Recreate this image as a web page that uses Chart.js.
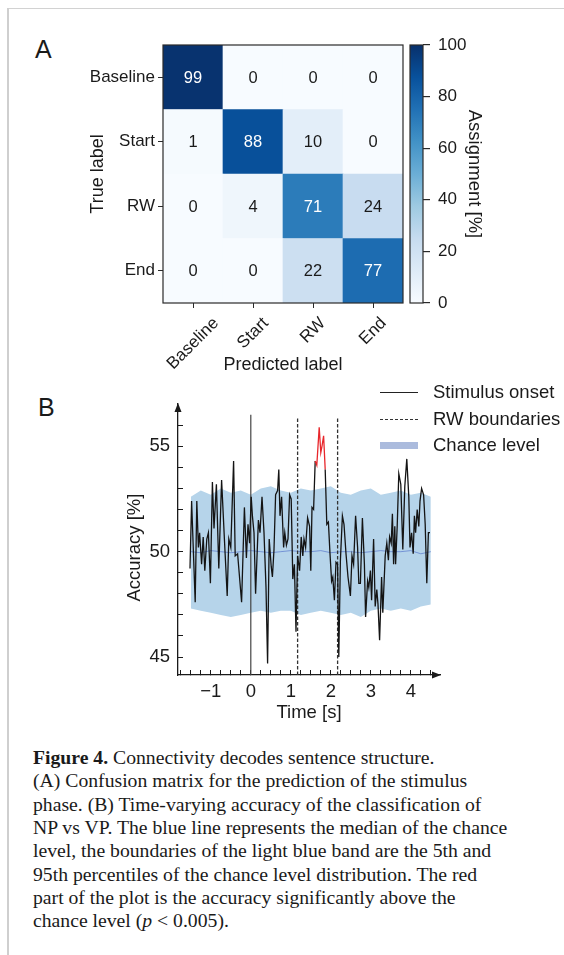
<!DOCTYPE html>
<html lang="en">
<head>
<meta charset="UTF-8" />
<title>Figure 4</title>
<script src="https://cdn.jsdelivr.net/npm/chart.js@4"></script>
<style>
  body { margin: 0; background: #fff; }
  #page {
    position: relative; width: 564px; height: 955px; overflow: hidden;
    font-family: "Liberation Sans", Arial, sans-serif; color: #1a1a1a;
  }
  .frame-v { position: absolute; left: 7px; top: 8px; width: 2px; height: 947px; background: #cfcfcf; }
  .frame-h { position: absolute; left: 7px; top: 8px; right: 0; height: 1px; background: #d2d2d2; }
  canvas { position: absolute; }
  #matrix { left: 0; top: 0; }
  #cbar { left: 400px; top: 0; }
  #accuracy { left: 0; top: 380px; }
  .panel { position: absolute; font-size: 25px; line-height: 1; }
  .legend { position: absolute; left: 380px; font-size: 18.5px; }
  .legend .row { position: absolute; left: 0; width: 190px; height: 22px; }
  .legend .sample { position: absolute; left: 0; width: 38px; top: 50%; }
  .legend .txt { position: absolute; left: 53px; top: 50%; transform: translateY(-50%); white-space: nowrap; }
  #caption {
    position: absolute; left: 33px; top: 746px;
    font-family: "Liberation Serif", "Times New Roman", serif;
    font-size: 19.7px; line-height: 23.35px; white-space: nowrap; color: #1a1a1a;
  }
</style>
</head>
<body>
<div id="page">
  <div class="frame-h"></div>
  <div class="frame-v"></div>

  <div class="panel" style="left:35px; top:37px;">A</div>
  <div class="panel" style="left:38px; top:395px;">B</div>

  <canvas id="matrix" width="410" height="380"></canvas>
  <canvas id="cbar" width="100" height="380"></canvas>
  <canvas id="accuracy" width="564" height="350"></canvas>

  <div class="legend" style="top:381px;">
    <div class="row" style="top:0;">
      <div class="sample" style="border-top:1.3px solid #222;"></div>
      <div class="txt">Stimulus onset</div>
    </div>
    <div class="row" style="top:26.5px;">
      <div class="sample" style="height:1.3px; background:repeating-linear-gradient(to right,#333 0 3px,transparent 3px 5px);"></div>
      <div class="txt">RW boundaries</div>
    </div>
    <div class="row" style="top:53px;">
      <div class="sample" style="height:7px; margin-top:-3.5px; background:#abbbdd;"></div>
      <div class="txt">Chance level</div>
    </div>
  </div>

  <div id="caption">
    <b>Figure 4.</b> Connectivity decodes sentence structure.<br>
    (A) Confusion matrix for the prediction of the stimulus<br>
    phase. (B) Time-varying accuracy of the classification of<br>
    NP vs VP. The blue line represents the median of the chance<br>
    level, the boundaries of the light blue band are the 5th and<br>
    95th percentiles of the chance level distribution. The red<br>
    part of the plot is the accuracy significantly above the<br>
    chance level (<i>p</i> &lt; 0.005).
  </div>
</div>

<script>
  // ---- panel A: confusion matrix (rows = true label, cols = predicted label)
  const trueLabels = ['Baseline', 'Start', 'RW', 'End'];
  const predLabels = ['Baseline', 'Start', 'RW', 'End'];
  const rowBaseline = [99, 0, 0, 0];
  const rowStart = [1, 88, 10, 0];
  const rowRW = [0, 4, 71, 24];
  const rowEnd = [0, 0, 22, 77];
  const cbarTicks = [0, 20, 40, 60, 80, 100];

  // ---- panel B: decoding accuracy over time
  const accTimes = [
    -1.52, -1.48, -1.39, -1.35, -1.31, -1.28, -1.23, -1.19, -1.15, -1.10,
    -1.06, -1.01, -0.96, -0.92, -0.86, -0.80, -0.73, -0.66, -0.59, -0.55,
    -0.50, -0.43, -0.39, -0.33, -0.23, -0.16, -0.11, -0.07, -0.03, 0.01,
    0.04, 0.08, 0.12, 0.19, 0.23, 0.28, 0.33, 0.38, 0.42, 0.46,
    0.51, 0.54, 0.58, 0.62, 0.67, 0.70, 0.73, 0.77, 0.82, 0.85,
    0.89, 0.93, 0.97, 1.01, 1.05, 1.09, 1.13, 1.17, 1.22, 1.26,
    1.30, 1.33, 1.37, 1.42, 1.47, 1.50, 1.53, 1.57, 1.61, 1.65,
    1.71, 1.75, 1.78, 1.82, 1.86, 1.90, 1.94, 1.98, 2.02, 2.05,
    2.09, 2.13, 2.17, 2.20, 2.24, 2.29, 2.33, 2.38, 2.43, 2.49,
    2.53, 2.57, 2.62, 2.67, 2.70, 2.74, 2.79, 2.84, 2.87, 2.92,
    2.95, 2.99, 3.02, 3.07, 3.11, 3.15, 3.18, 3.22, 3.27, 3.30,
    3.36, 3.40, 3.44, 3.47, 3.51, 3.54, 3.57, 3.60, 3.62, 3.66,
    3.70, 3.75, 3.80, 3.85, 3.90, 3.95, 3.98, 4.02, 4.06, 4.09,
    4.12, 4.16, 4.20, 4.23, 4.27, 4.32, 4.36, 4.40, 4.44, 4.48
  ];
  const accValues = [
    49.2, 52.4, 47.6, 52.4, 50.2, 50.9, 49.4, 50.7, 49.1, 50.6,
    50.9, 48.5, 53.3, 51.1, 53.2, 49.2, 53.4, 50.6, 47.9, 50.6,
    50.2, 54.3, 49.8, 49.9, 47.6, 52.1, 49.7, 51.3, 50.4, 52.6,
    51.7, 50.9, 48.0, 51.5, 50.9, 52.6, 50.9, 48.3, 44.7, 50.6,
    49.3, 48.8, 50.1, 52.7, 52.9, 53.9, 51.7, 52.6, 50.2, 50.9,
    50.3, 50.6, 52.7, 52.5, 48.7, 49.4, 46.2, 49.8, 49.1, 50.7,
    49.8, 50.6, 50.2, 51.6, 51.2, 49.1, 52.1, 52.0, 54.3, 54.1,
    55.9, 54.7, 55.0, 55.5, 53.9, 51.3, 51.4, 49.9, 48.6, 48.8,
    47.7, 49.5, 49.4, 45.0, 49.6, 51.7, 51.3, 49.9, 48.8, 47.9,
    49.8, 49.4, 51.7, 50.2, 48.5, 48.5, 51.6, 49.4, 46.9, 48.6,
    48.3, 49.1, 47.7, 50.6, 47.4, 48.2, 47.5, 45.8, 48.8, 47.1,
    49.8, 50.4, 49.6, 50.7, 50.4, 51.8, 49.4, 51.2, 49.4, 51.2,
    53.7, 53.2, 50.1, 53.1, 54.4, 52.6, 50.2, 50.9, 49.9, 51.7,
    50.9, 52.0, 51.2, 52.4, 53.0, 52.7, 51.3, 48.5, 50.9, 50.9
  ];
  const sigWindow = [1.6, 1.87];   // red: accuracy above chance (p < 0.005)

  const bandTimes = [
    -1.5, -1.25, -1.0, -0.75, -0.5, -0.25, 0.0, 0.25, 0.5, 0.75, 1.0, 1.25, 1.5,
    1.75, 2.0, 2.25, 2.5, 2.75, 3.0, 3.25, 3.5, 3.75, 4.0, 4.25, 4.5
  ];
  const bandUpper = [
    52.6, 52.9, 52.7, 53.0, 52.8, 52.9, 52.7, 53.0, 53.1, 52.9, 52.8, 53.0, 52.9,
    53.0, 53.1, 52.8, 52.7, 52.9, 53.0, 52.7, 52.8, 52.9, 52.7, 52.8, 52.6
  ];
  const bandLower = [
    47.3, 47.2, 47.1, 47.0, 46.9, 47.0, 47.1, 47.2, 47.1, 47.2, 47.2, 47.0, 47.1,
    47.2, 47.1, 47.0, 47.1, 46.9, 47.2, 47.3, 47.2, 47.3, 47.2, 47.4, 47.5
  ];
  const bandMedian = [
    50.0, 49.95, 50.05, 50.0, 49.95, 50.0, 50.05, 50.0, 49.95, 50.0, 50.05, 50.0, 50.0,
    50.05, 49.95, 50.0, 50.0, 49.95, 50.0, 50.05, 50.0, 50.0, 50.05, 49.9, 50.0
  ];

  const onsetTime = 0;
  const rwBounds = [1.17, 2.17];
  const yLabelTicks = [45, 50, 55];
  const xLabelTicks = [-1, 0, 1, 2, 3, 4];

  // ---- helpers
  const FONT = '"Liberation Sans", Arial, sans-serif';
  Chart.defaults.font.family = FONT;
  Chart.defaults.color = '#1a1a1a';

  const bluesStops = ['#f7fbff', '#deebf7', '#c6dbef', '#9ecae1', '#6baed6',
                      '#4292c6', '#2171b5', '#08519c', '#08306b'];
  function hexRgb(h) {
    return [1, 3, 5].map(i => parseInt(h.slice(i, i + 2), 16));
  }
  function blues(v) {
    const t = Math.min(Math.max(v / 100, 0), 1) * (bluesStops.length - 1);
    const i = Math.min(Math.floor(t), bluesStops.length - 2);
    const f = t - i;
    const a = hexRgb(bluesStops[i]), b = hexRgb(bluesStops[i + 1]);
    return 'rgb(' + a.map((c, k) => Math.round(c + (b[k] - c) * f)).join(',') + ')';
  }

  const frameBox = {
    id: 'frameBox',
    afterDatasetsDraw(chart) {
      const { ctx, chartArea: a } = chart;
      ctx.save();
      ctx.strokeStyle = '#2a2a2a';
      ctx.lineWidth = 1.2;
      ctx.strokeRect(a.left, a.top, a.right - a.left, a.bottom - a.top);
      ctx.restore();
    }
  };

  // ---- panel A chart
  const matrixRows = [rowBaseline, rowStart, rowRW, rowEnd];

  const cellText = {
    id: 'cellText',
    afterDatasetsDraw(chart) {
      const { ctx } = chart;
      ctx.save();
      ctx.font = '16.5px ' + FONT;
      ctx.textAlign = 'center';
      ctx.textBaseline = 'middle';
      chart.data.datasets.forEach((ds, di) => {
        const meta = chart.getDatasetMeta(di);
        meta.data.forEach((el, ci) => {
          const v = ds.cellValues[ci];
          ctx.fillStyle = v > 50 ? '#ffffff' : '#1a1a1a';
          ctx.fillText(String(v), el.x, (el.y + el.base) / 2 + 1);
        });
      });
      ctx.restore();
    }
  };

  const rotatedX = {
    id: 'rotatedX',
    afterDraw(chart) {
      const { ctx, chartArea, scales: { x } } = chart;
      ctx.save();
      ctx.font = '17px ' + FONT;
      ctx.fillStyle = '#1a1a1a';
      ctx.textAlign = 'center';
      ctx.textBaseline = 'middle';
      predLabels.forEach((lab, i) => {
        const px = x.getPixelForTick(i);
        const w = ctx.measureText(lab).width;
        const half = (w + 13) * Math.SQRT1_2 / 2;
        ctx.save();
        ctx.translate(px, chartArea.bottom + 13 + half);
        ctx.rotate(-Math.PI / 4);
        ctx.fillText(lab, 0, 0);
        ctx.restore();
      });
      ctx.restore();
    }
  };

  // stacked from the bottom row (End) up to the top row (Baseline)
  const matrixDatasets = trueLabels.map((lab, r) => ({
    label: lab,
    data: predLabels.map(() => 1),
    cellValues: matrixRows[r],
    backgroundColor: matrixRows[r].map(blues),
    borderWidth: 0,
    barPercentage: 1,
    categoryPercentage: 1
  })).reverse();

  new Chart(document.getElementById('matrix'), {
    type: 'bar',
    data: { labels: predLabels, datasets: matrixDatasets },
    options: {
      responsive: false,
      animation: false,
      layout: { padding: { left: 87, top: 45, right: 7, bottom: 4 } },
      plugins: { legend: { display: false }, tooltip: { enabled: false } },
      scales: {
        x: {
          stacked: true,
          grid: { drawOnChartArea: false, offset: false, tickLength: 5, color: '#2a2a2a', lineWidth: 1 },
          border: { display: false },
          ticks: { display: false },
          title: { display: true, text: 'Predicted label', font: { size: 18 }, padding: 0 },
          afterFit: s => { s.height = 73; }
        },
        y: {
          stacked: true,
          min: 0, max: trueLabels.length,
          afterBuildTicks: ax => { ax.ticks = trueLabels.map((_, i) => ({ value: i + 0.5 })); },
          grid: { drawOnChartArea: false, tickLength: 5, color: '#2a2a2a', lineWidth: 1 },
          border: { display: false },
          ticks: {
            padding: 3, font: { size: 17 }, color: '#1a1a1a',
            callback: v => trueLabels[trueLabels.length - 1 - Math.floor(v)]
          },
          title: { display: true, text: 'True label', font: { size: 18 }, padding: 0 },
          afterFit: s => { s.width = 76; }
        }
      }
    },
    plugins: [cellText, frameBox, rotatedX]
  });

  // ---- colour bar
  new Chart(document.getElementById('cbar'), {
    type: 'bar',
    data: {
      labels: [''],
      datasets: [{
        data: [[cbarTicks[0], cbarTicks[cbarTicks.length - 1]]],
        barPercentage: 1,
        categoryPercentage: 1,
        borderWidth: 0,
        backgroundColor: ctx => {
          const a = ctx.chart.chartArea;
          if (!a) return '#ffffff';
          const g = ctx.chart.ctx.createLinearGradient(0, a.bottom, 0, a.top);
          bluesStops.forEach((c, i) => g.addColorStop(i / (bluesStops.length - 1), c));
          return g;
        }
      }]
    },
    options: {
      responsive: false,
      animation: false,
      layout: { padding: { left: 10, top: 45, right: 15, bottom: 77 } },
      plugins: { legend: { display: false }, tooltip: { enabled: false } },
      scales: {
        x: { display: false },
        y: {
          position: 'right',
          min: 0, max: 100,
          afterBuildTicks: ax => { ax.ticks = cbarTicks.map(v => ({ value: v })); },
          grid: { drawOnChartArea: false, tickLength: 7, color: '#2a2a2a', lineWidth: 1.2 },
          border: { display: false },
          ticks: { padding: 8, font: { size: 17 }, color: '#1a1a1a' },
          title: { display: true, text: 'Assignment [%]', font: { size: 18.5 }, padding: 0 },
          afterFit: s => { s.width = 62; }
        }
      }
    },
    plugins: [frameBox]
  });

  // ---- panel B chart
  const Y_MIN = 44.15, Y_MAX = 57.0;
  const X_MIN = -1.82, X_MAX = 4.73;
  const onsetTop = 56.5, rwTop = 56.4;

  const axisArrows = {
    id: 'axisArrows',
    afterDraw(chart) {
      const { ctx, chartArea: a } = chart;
      ctx.save();
      ctx.fillStyle = '#1a1a1a';
      ctx.beginPath();
      ctx.moveTo(a.left, a.top - 1);
      ctx.lineTo(a.left - 3.5, a.top + 8);
      ctx.lineTo(a.left + 3.5, a.top + 8);
      ctx.closePath();
      ctx.fill();
      ctx.beginPath();
      ctx.moveTo(a.right + 1, a.bottom);
      ctx.lineTo(a.right - 8, a.bottom - 3.5);
      ctx.lineTo(a.right - 8, a.bottom + 3.5);
      ctx.closePath();
      ctx.fill();
      ctx.restore();
    }
  };

  // y title drawn a little below the axis midpoint, as in the original figure
  const yTitle = {
    id: 'yTitle',
    afterDraw(chart) {
      const { ctx, chartArea: a, scales: { y } } = chart;
      ctx.save();
      ctx.font = '18.5px ' + FONT;
      ctx.fillStyle = '#1a1a1a';
      ctx.textAlign = 'center';
      ctx.textBaseline = 'middle';
      ctx.translate(y.left + 11, (a.top + a.bottom) / 2 + 8);
      ctx.rotate(-Math.PI / 2);
      ctx.fillText('Accuracy [%]', 0, 0);
      ctx.restore();
    }
  };

  const toPts = (xs, ys) => xs.map((x, i) => ({ x, y: ys[i] }));
  const inSig = x => x >= sigWindow[0] && x <= sigWindow[1];

  const lineBase = { pointRadius: 0, tension: 0, fill: false };

  new Chart(document.getElementById('accuracy'), {
    type: 'line',
    data: {
      datasets: [
        Object.assign({}, lineBase, {
          label: 'band low', data: toPts(bandTimes, bandLower),
          borderWidth: 0, borderColor: 'rgba(0,0,0,0)', order: 6
        }),
        Object.assign({}, lineBase, {
          label: 'band high', data: toPts(bandTimes, bandUpper),
          borderWidth: 0, borderColor: 'rgba(0,0,0,0)', fill: '-1',
          backgroundColor: '#b6d4ea', order: 5
        }),
        Object.assign({}, lineBase, {
          label: 'median', data: toPts(bandTimes, bandMedian),
          borderWidth: 1, borderColor: 'rgba(95,125,205,0.75)', order: 4
        }),
        Object.assign({}, lineBase, {
          label: 'onset', data: [{ x: onsetTime, y: Y_MIN }, { x: onsetTime, y: onsetTop }],
          borderWidth: 1.2, borderColor: '#444', order: 2
        }),
        ...rwBounds.map(t => Object.assign({}, lineBase, {
          label: 'rw', data: [{ x: t, y: Y_MIN }, { x: t, y: rwTop }],
          borderWidth: 1.3, borderColor: '#333', borderDash: [3.5, 2], order: 2
        })),
        Object.assign({}, lineBase, {
          label: 'accuracy', data: toPts(accTimes, accValues),
          borderWidth: 1.3, borderColor: '#141414', order: 1,
          segment: {
            borderColor: c => (inSig(c.p0.parsed.x) && inSig(c.p1.parsed.x)) ? '#e8262b' : undefined
          }
        })
      ]
    },
    options: {
      responsive: false,
      animation: false,
      layout: { padding: { left: 124, top: 22, right: 124, bottom: 6 } },
      plugins: { legend: { display: false }, tooltip: { enabled: false } },
      scales: {
        x: {
          type: 'linear', min: X_MIN, max: X_MAX,
          afterBuildTicks: ax => {
            const t = [];
            for (let k = -7; k <= 18; k++) t.push({ value: k / 4 });
            ax.ticks = t;
          },
          grid: { drawOnChartArea: false, tickLength: -5, color: '#1a1a1a', lineWidth: 1 },
          border: { display: true, color: '#1a1a1a', width: 1.3 },
          ticks: {
            autoSkip: false, maxRotation: 0, padding: 10.5, font: { size: 18.5 }, color: '#1a1a1a',
            callback: v => xLabelTicks.includes(v) ? String(v).replace('-', '\u2212') : ''
          },
          title: { display: true, text: 'Time [s]', font: { size: 18.5 }, padding: 0 },
          afterFit: s => { s.height = 49; }
        },
        y: {
          type: 'linear', min: Y_MIN, max: Y_MAX,
          afterBuildTicks: ax => {
            const t = [];
            for (let v = 45; v <= 56; v++) t.push({ value: v });
            ax.ticks = t;
          },
          grid: { drawOnChartArea: false, tickLength: -5, color: '#1a1a1a', lineWidth: 1 },
          border: { display: true, color: '#1a1a1a', width: 1.3 },
          ticks: {
            autoSkip: false, padding: 13, font: { size: 18.5 }, color: '#1a1a1a',
            callback: v => yLabelTicks.includes(v) ? String(v) : ''
          },
          title: { display: false },
          afterFit: s => { s.width = 54; }
        }
      }
    },
    plugins: [axisArrows, yTitle]
  });
</script>
</body>
</html>
